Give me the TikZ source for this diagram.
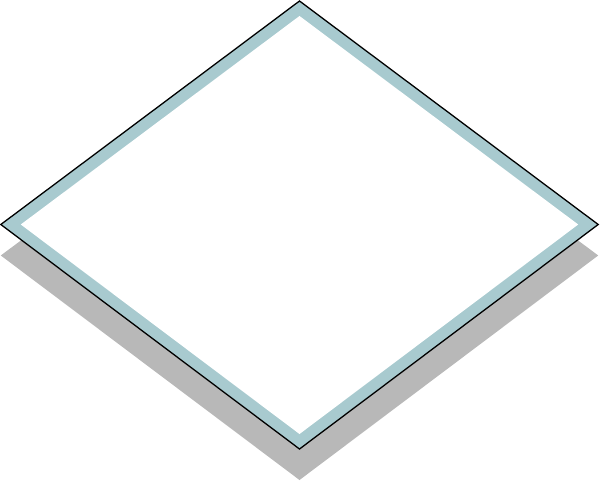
\documentclass[tikz,border=0pt]{standalone}
\definecolor{bandteal}{HTML}{A8CACF}
\definecolor{shadowgray}{HTML}{B8B8B8}
\begin{document}
\begin{tikzpicture}[x=1pt,y=-1pt,
  shadowstyle/.style={fill=shadowgray},
  bandstyle/.style={fill=bandteal},
  innerstyle/.style={fill=white},
  outlinestyle/.style={draw=black,line width=1.3pt,line join=miter}]
\useasboundingbox (0,0) rectangle (600,483);
\coordinate (T) at (299.5,1);
\coordinate (L) at (0.8,224.5);
\coordinate (R) at (598.2,224.5);
\coordinate (B) at (299.5,449);
\coordinate (iT) at (299.5,16);
\coordinate (iL) at (20.8,224.5);
\coordinate (iR) at (578.2,224.5);
\coordinate (iB) at (299.5,434);
\fill[shadowstyle] ([yshift=-31pt]T) -- ([yshift=-31pt]R) -- ([yshift=-31pt]B) -- ([yshift=-31pt]L) -- cycle;
\fill[bandstyle] (T) -- (R) -- (B) -- (L) -- cycle;
\fill[innerstyle] (iT) -- (iR) -- (iB) -- (iL) -- cycle;
\draw[outlinestyle] (T) -- (R) -- (B) -- (L) -- cycle;
\end{tikzpicture}
\end{document}
